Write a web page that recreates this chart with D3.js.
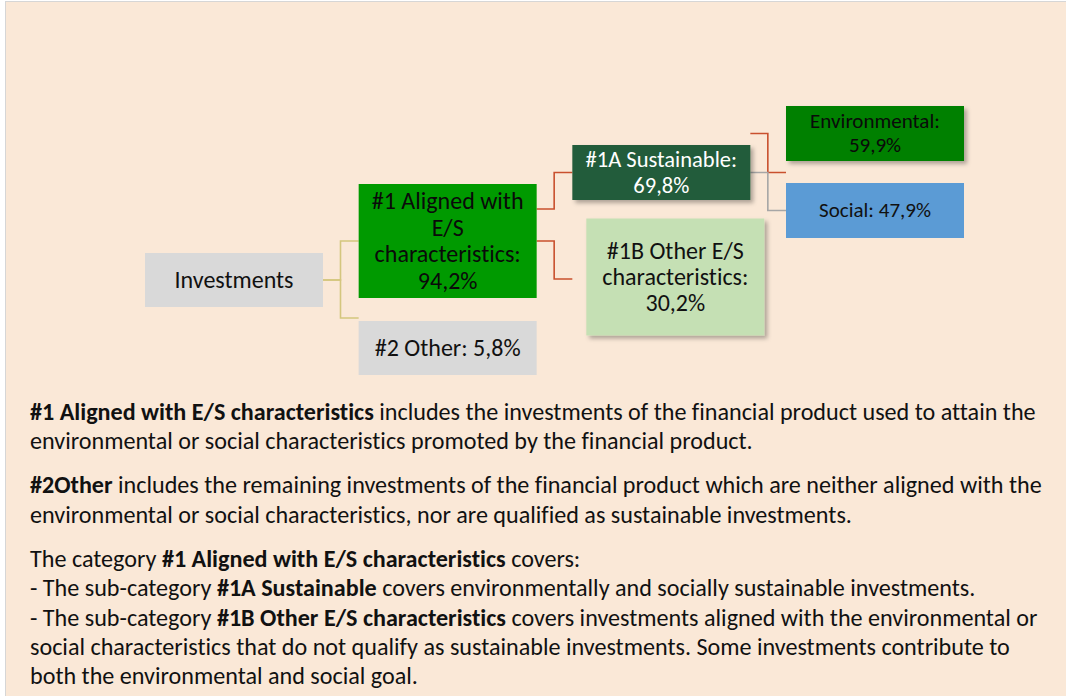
<!DOCTYPE html>
<html>
<head>
<meta charset="utf-8">
<script src="https://cdn.jsdelivr.net/npm/d3@7/dist/d3.min.js"></script>
<style>
	body { margin: 0; background: #fff; }
	svg { display: block; font-variant-ligatures: none; font-feature-settings: "liga" 0, "clig" 0; }
</style>
</head>
<body>
<div id="chart"></div>
<script>
// Tree data
let nodeIds = ['inv', 'n1', 'n2', 'n1a', 'n1b', 'env', 'soc'];
let nodeParents = [null, 'inv', 'inv', 'n1', 'n1', 'n1a', 'n1a'];
let nodeLabels = ['Investments', '#1 Aligned with E/S characteristics', '#2 Other', '#1A Sustainable', '#1B Other E/S characteristics', 'Environmental', 'Social'];
let nodeValues = [null, 94.2, 5.8, 69.8, 30.2, 59.9, 47.9];

// Notes under the tree: paragraphs > lines > [text, bold]
let note1 = [
	[['#1 Aligned with E/S characteristics', true], [' includes the investments of the financial product used to attain the', false]],
	[['environmental or social characteristics promoted by the financial product.', false]]
];
let note2 = [
	[['#2Other', true], [' includes the remaining investments of the financial product which are neither aligned with the', false]],
	[['environmental or social characteristics, nor are qualified as sustainable investments.', false]]
];
let note3 = [
	[['The category ', false], ['#1 Aligned with E/S characteristics', true], [' covers:', false]],
	[['- The sub-category ', false], ['#1A Sustainable', true], [' covers environmentally and socially sustainable investments.', false]],
	[['- The sub-category ', false], ['#1B Other E/S characteristics', true], [' covers investments aligned with the environmental or', false]],
	[['social characteristics that do not qualify as sustainable investments. Some investments contribute to', false]],
	[['both the environmental and social goal.', false]]
];

let width = 1066;
let height = 696;

// pick a Calibri-like font that is installed
let ctx = document.createElement('canvas').getContext('2d');
function measure(str, family, weight) {
	ctx.font = (weight || 400) + ' 100px ' + family;
	return ctx.measureText(str).width;
}
function hasFont(name) {
	let probe = 'abcdefghijklmnopqrstuvwxyz0123456789';
	return measure(probe, '"' + name + '", monospace') !== measure(probe, 'monospace');
}
let fontName = ['Carlito', 'Calibri', 'Lato', 'Open Sans'].find(hasFont) || 'sans-serif';
let font = '"' + fontName + '", sans-serif';

// font size so that a sample string gets the width it has in the picture
function fitSize(sample, target, weight) {
	return 100 * target / measure(sample, font, weight);
}
let bodySize = fitSize('social characteristics that do not qualify as sustainable investments. Some investments contribute to', 980);
let boxScale = fitSize('characteristics:', 146) / 24;

let fmt = d3.formatLocale({decimal: ',', thousands: '.', grouping: [3], currency: ['', '%']}).format('.1f');

let svg = d3.select('#chart')
	.append('svg')
	.attr('width', width)
	.attr('height', height)
	.style('font-family', font);

let defs = svg.append('defs');
let shadow = defs.append('filter')
	.attr('id', 'shadow')
	.attr('x', '-10%').attr('y', '-20%')
	.attr('width', '130%').attr('height', '160%');
shadow.append('feDropShadow')
	.attr('dx', 3).attr('dy', 3)
	.attr('stdDeviation', 2.2)
	.attr('flood-color', '#000')
	.attr('flood-opacity', 0.3);

// panel
svg.append('rect')
	.attr('x', 5.5)
	.attr('y', 1.5)
	.attr('width', width)
	.attr('height', height)
	.attr('fill', '#FAE8D7')
	.attr('stroke', '#D6D6D6');

// Layout of the boxes (vertical placement, sizes) and their styles
let boxW = 178;
let layout = {
	inv: {cy: 280, h: 54, size: 24, lh: 26.5, fill: '#D9D9D9', color: '#111'},
	n1:  {cy: 241, h: 114, size: 24, lh: 26.6, fill: '#009A00', color: '#0a0a0a'},
	n2:  {cy: 348, h: 54, size: 24, lh: 26.5, fill: '#D9D9D9', color: '#111'},
	n1a: {cy: 172.5, h: 55, size: 22.5, lh: 25.5, fill: '#245B3B', color: '#fff', shadow: true},
	n1b: {cy: 277, h: 117, size: 24, lh: 26.2, fill: '#C5E0B4', color: '#111', dx: 14, shadow: true},
	env: {cy: 133.5, h: 55, size: 21, lh: 24, fill: '#008000', color: '#0a0a0a', shadow: true},
	soc: {cy: 210.5, h: 55, size: 21, lh: 24, fill: '#5B9BD5', color: '#111'}
};
// connector styles and the few ends that do not sit on a box centre
let linkStyle = {
	'inv-n1': {stroke: '#D4C67E'},
	'inv-n2': {stroke: '#D4C67E', ty: -30},
	'n1-n1a': {stroke: '#C9502E', sy: -32},
	'n1-n1b': {stroke: '#C9502E', ty: 2},
	'n1a-env': {stroke: '#C9502E', swap: true},
	'n1a-soc': {stroke: '#A6A6A6'}
};

let rows = nodeIds.map(function(id, i) {
	return {id: id, parent: nodeParents[i], label: nodeLabels[i], value: nodeValues[i]};
});
let root = d3.stratify().id(d => d.id).parentId(d => d.parent)(rows);
let nodes = root.descendants();

let x = d3.scaleLinear().domain([0, root.height]).range([145, 786]);
function boxX(d) { return x(d.depth) + (layout[d.id].dx || 0); }

// connectors
let links = svg.append('g').attr('id', 'links');
links.selectAll('path')
	.data(root.links())
	.enter()
	.append('path')
	.attr('fill', 'none')
	.attr('stroke-width', 1.6)
	.attr('stroke', d => linkStyle[d.source.id + '-' + d.target.id].stroke)
	.attr('d', function(d) {
		let st = linkStyle[d.source.id + '-' + d.target.id];
		let x1 = x(d.source.depth) + boxW;
		let x2 = x(d.target.depth);
		let y1 = layout[d.source.id].cy + (st.sy || 0);
		let y2 = layout[d.target.id].cy + (st.ty || 0);
		if (st.swap) { let t = y1; y1 = y2; y2 = t; }
		let xm = x1 + 17.5;
		return d3.line()([[x1, y1], [xm, y1], [xm, y2], [x2, y2]]);
	});

// boxes
let boxes = svg.append('g').attr('id', 'boxes');
let box = boxes.selectAll('g')
	.data(nodes)
	.enter()
	.append('g');

box.append('rect')
	.attr('x', d => boxX(d))
	.attr('y', d => layout[d.id].cy - layout[d.id].h / 2)
	.attr('width', boxW)
	.attr('height', d => layout[d.id].h)
	.attr('fill', d => layout[d.id].fill)
	.attr('filter', d => layout[d.id].shadow ? 'url(#shadow)' : null);

function wrap(str, size, maxW) {
	let words = str.split(' ');
	let lines = [];
	let cur = '';
	words.forEach(function(w) {
		let test = cur ? cur + ' ' + w : w;
		if (cur && measure(test, font) * size / 100 > maxW) {
			lines.push(cur);
			cur = w;
		} else {
			cur = test;
		}
	});
	lines.push(cur);
	return lines;
}

box.each(function(d) {
	let L = layout[d.id];
	let size = L.size * boxScale;
	let str = d.data.value == null ? d.data.label : d.data.label + ': ' + fmt(d.data.value) + '%';
	let lines = wrap(str, size, 168);
	let top = L.cy - (lines.length - 1) * L.lh / 2;
	d3.select(this).append('text')
		.attr('text-anchor', 'middle')
		.attr('font-size', size)
		.attr('fill', L.color)
		.selectAll('tspan')
		.data(lines)
		.enter()
		.append('tspan')
		.attr('x', boxX(d) + boxW / 2)
		.attr('y', (l, i) => top + i * L.lh + L.size * 0.33)
		.text(l => l);
});

// notes
let notes = svg.append('g').attr('id', 'notes')
	.attr('font-size', bodySize)
	.attr('fill', '#111');
let lineH = 29.4;
let paraGap = 14.6;
let baseY = 420;
[note1, note2, note3].forEach(function(para) {
	para.forEach(function(line) {
		notes.append('text')
			.attr('x', 30)
			.attr('y', baseY)
			.selectAll('tspan')
			.data(line)
			.enter()
			.append('tspan')
			.attr('font-weight', s => s[1] ? 700 : 400)
			.text(s => s[0]);
		baseY += lineH;
	});
	baseY += paraGap;
});
</script>
</body>
</html>
